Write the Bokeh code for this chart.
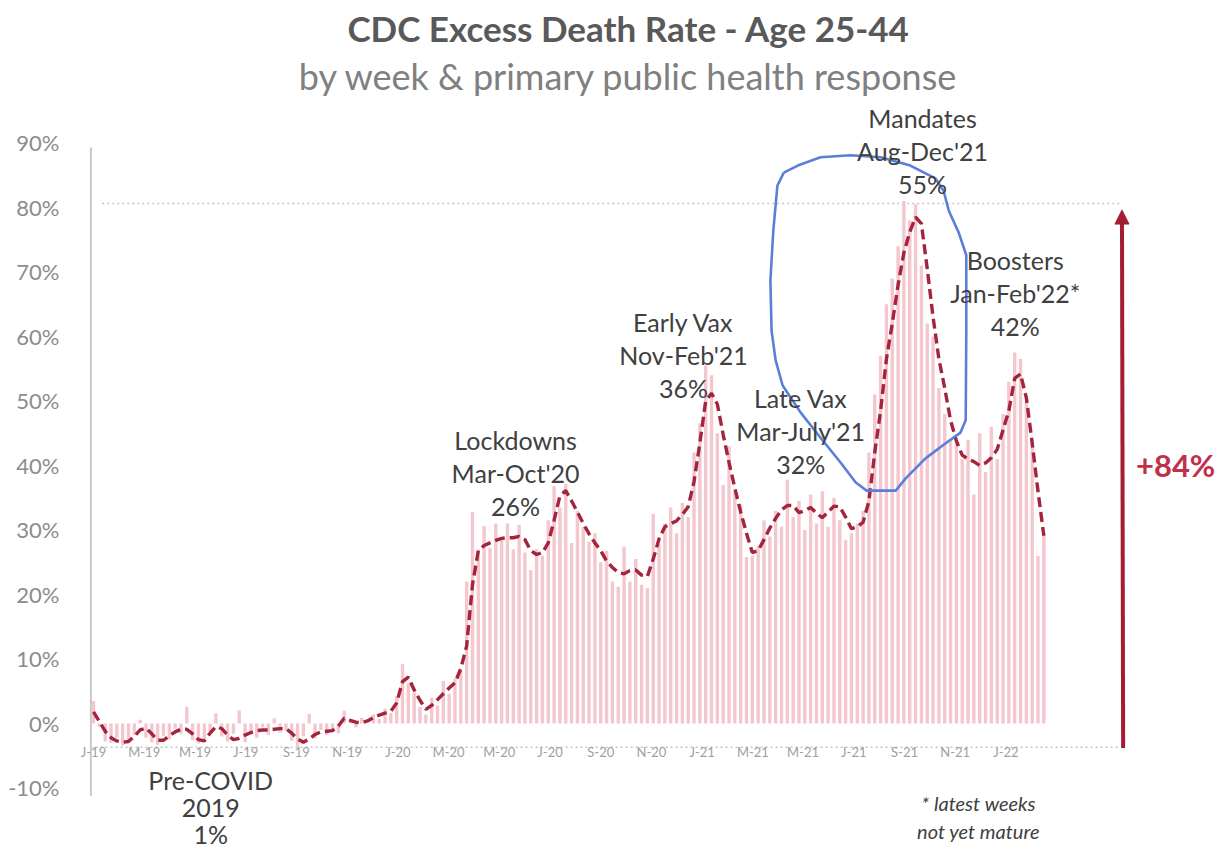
from bokeh.plotting import figure
from bokeh.models import Range1d, FixedTicker, LinearAxis, Arrow, NormalHead
from bokeh.core.properties import value
from bokeh.embed import file_html
from bokeh.resources import INLINE

# ---------------- data (weekly, Jan 2019 .. Feb 2022) ----------------
weeks = list(range(164))

excess_rate = [
    3.5, -0.5, -2.8, -3.0, -2.2, -3.4, -2.6, -1.8, 0.6, -2.2,
    -2.9, -3.3, -1.9, -2.5, -0.8, -1.6, 2.6, -2.6, -3.1, -2.4,
    -1.2, 1.6, -2.0, -2.8, -1.6, 2.0, -2.9, -1.5, -2.2, -0.6,
    -1.8, 0.8, -1.4, -1.1, -2.7, -3.6, -2.0, 1.5, -2.3, -1.0,
    -1.8, -0.9, -1.5, 2.0, 0.2, -0.6, 0.9, 0.0, 1.4, 0.7,
    2.3, 1.6, 4.2, 9.2, 6.2, 4.8, 2.6, 1.4, 4.0, 2.8,
    6.6, 4.6, 7.0, 8.2, 22.0, 32.8, 27.0, 30.6, 27.2, 31.0,
    28.5, 31.0, 27.0, 30.8, 26.5, 23.8, 27.0, 26.0, 31.5, 36.8,
    33.5, 37.2, 28.0, 33.0, 30.5, 28.2, 29.5, 25.0, 26.8, 22.0,
    21.2, 27.4, 22.0, 25.5, 21.5, 21.0, 32.5, 27.8, 31.0, 33.5,
    29.5, 34.2, 32.0, 42.0, 46.5, 55.5, 54.0, 45.0, 37.0, 43.0,
    36.0, 34.0, 25.8, 26.0, 27.5, 31.5, 29.0, 33.0, 30.5, 37.8,
    32.0, 34.5, 30.0, 35.5, 31.0, 36.0, 30.5, 35.0, 31.5, 28.5,
    29.5, 31.0, 33.0, 42.0, 51.0, 57.0, 65.0, 69.0, 74.0, 81.0,
    78.0, 80.5, 71.0, 62.0, 60.0, 52.0, 48.0, 44.0, 43.5, 41.0,
    44.0, 35.5, 45.0, 39.0, 46.0, 41.0, 48.0, 53.0, 57.5, 56.5,
    50.0, 44.0, 26.0, 29.5,
]

trend = [
    1.8, 0.3, -1.2, -2.2, -2.7, -2.9, -2.8, -2.0, -1.0, -0.7,
    -1.6, -2.6, -2.6, -1.9, -1.3, -0.9, -0.9, -1.6, -2.5, -2.7,
    -1.5, -0.5, -0.8, -1.8, -2.5, -2.3, -1.8, -1.4, -1.1, -1.0,
    -1.0, -0.9, -0.8, -0.8, -1.5, -2.4, -2.9, -2.4, -1.7, -1.3,
    -1.2, -1.1, -0.4, 0.8, 0.5, 0.2, 0.1, 0.4, 0.9, 1.3,
    1.6, 1.9, 3.2, 6.5, 7.2, 5.2, 3.6, 2.2, 2.8, 3.7,
    4.6, 5.5, 6.3, 8.5, 12.0, 21.5, 26.8, 27.6, 28.0, 28.4,
    28.7, 28.8, 28.8, 29.0, 28.5, 26.8, 26.2, 26.5, 28.0, 31.5,
    35.3, 36.1, 34.5, 32.8, 31.0, 29.4, 28.0, 26.8, 25.2, 24.2,
    23.4, 23.2, 23.7, 23.8, 23.0, 22.8, 25.5, 28.6, 30.5, 31.0,
    31.4, 32.4, 33.6, 37.5, 43.5, 50.0, 51.2, 49.5, 44.8, 40.5,
    36.5, 32.8, 29.5, 26.5, 26.8, 28.5, 30.3, 31.8, 33.1, 33.8,
    33.8, 32.7, 33.0, 33.5, 32.6, 31.9, 32.8, 33.7, 33.6, 32.0,
    30.2, 30.5, 31.2, 34.5, 42.0, 48.5, 56.5, 62.0, 68.0, 73.0,
    76.2, 78.5, 77.5, 70.5, 63.0, 56.5, 52.0, 47.0, 43.8, 41.6,
    41.0, 40.6, 40.0, 40.4, 41.2, 42.5, 45.5, 48.5, 53.5, 54.2,
    50.5, 43.5, 36.0, 29.1,
]

# month starts (in week units) and their labels
month_ticks = [0, 8.7, 17.4, 26.1, 34.8, 43.5, 52.2, 60.9, 69.6, 78.3,
               87.0, 95.7, 104.4, 113.1, 121.7, 130.4, 139.1, 147.8, 156.5]
month_labels = ["J-19", "M-19", "M-19", "J-19", "S-19", "N-19",
                "J-20", "M-20", "M-20", "J-20", "S-20", "N-20",
                "J-21", "M-21", "M-21", "J-21", "S-21", "N-21", "J-22"]

y_ticks = [-10, 0, 10, 20, 30, 40, 50, 60, 70, 80, 90]
y_labels = ["-10%", "0%", "10%", "20%", "30%", "40%", "50%", "60%", "70%", "80%", "90%"]

# period annotations: name, dates, average excess
period_names = ["Lockdowns", "Early Vax", "Late Vax", "Mandates", "Boosters"]
period_dates = ["Mar-Oct'20", "Nov-Feb'21", "Mar-July'21", "Aug-Dec'21", "Jan-Feb'22*"]
period_avgs = ["26%", "36%", "32%", "55%", "42%"]
period_x = [72.4, 101.2, 121.3, 142.2, 158.1]
period_y = [43.9, 62.2, 50.4, 93.8, 71.8]

precovid_text = ["Pre-COVID", "2019", "1%"]

# hand-drawn highlight loop (week, %)
loop_w = [118.4, 117.3, 116.6, 116.1, 116.3, 117.0, 118.2, 121.3, 124.7, 128.1,
          130.7, 132.6, 137.6, 139.3, 142.7, 146.1, 148.7, 149.6, 149.7, 149.7,
          148.4, 146.7, 145.8, 144.4, 140.1, 135.0, 129.8, 124.7, 120.8, 118.4]
loop_v = [85.4, 83.4, 76.4, 68.7, 60.9, 56.3, 52.4, 48.2, 44.3, 40.5,
          37.4, 36.1, 36.1, 38.0, 41.1, 43.4, 45.1, 47.0, 60.9, 72.6,
          76.1, 79.5, 82.6, 84.5, 86.5, 87.8, 88.1, 87.8, 86.5, 85.4]

increase_label = "+84%"

# ---------------- figure ----------------
FONT = "Lato"
p = figure(width=1220, height=848,
           x_range=Range1d(-3.945, 193.3), y_range=Range1d(-19.38, 112.09),
           x_axis_type=None, output_backend="svg", toolbar_location=None,
           min_border_left=70, min_border_right=0, min_border_top=0, min_border_bottom=0)
p.outline_line_color = None
p.ygrid.grid_line_color = None
p.background_fill_color = "white"

# y axis
yax = p.yaxis[0]
yax.ticker = FixedTicker(ticks=y_ticks)
yax.major_label_overrides = {t: l for t, l in zip(y_ticks, y_labels)}
yax.axis_line_color = None
yax.major_tick_line_color = None
yax.minor_tick_line_color = None
yax.major_label_standoff = 5
yax.major_label_text_font = FONT
yax.major_label_text_font_size = "22px"
yax.major_label_text_color = "#8c8c8c"

# x axis (labels sit on the dotted baseline inside the chart)
xax = LinearAxis(fixed_location=-2.3, ticker=FixedTicker(ticks=month_ticks),
                 major_label_overrides={t: l for t, l in zip(month_ticks, month_labels)},
                 axis_line_color=None, major_tick_line_color=None, minor_tick_line_color=None,
                 major_label_standoff=0, major_label_text_font=FONT,
                 major_label_text_font_size="13px", major_label_text_color="#a0a0a0")
p.add_layout(xax, "below")

# reference lines
p.segment(x0=[-0.5, 1.5], y0=[-3.7, 80.6], x1=[176.0, 176.0], y1=[-3.7, 80.6],
          line_color="#c4c4c4", line_width=1.5, line_dash="2 3")
p.segment(x0=[-0.45], y0=[-11.2], x1=[-0.45], y1=[89.3], line_color="#c8c8c8", line_width=2)

# bars + trend
p.vbar(x=weeks, top=excess_rate, bottom=0, width=0.58, fill_color="#f4c6ce", line_color=None)
p.line(weeks, trend, line_color="#a3243b", line_width=3.4, line_dash="10 5")

# highlight loop
p.line(loop_w, loop_v, line_color="#5a7fd8", line_width=2.6)

# arrow
p.add_layout(Arrow(end=NormalHead(size=14, fill_color="#a51d35", line_color="#a51d35"),
                   x_start=176.6, y_start=-3.8, x_end=176.4, y_end=79.6,
                   line_color="#a51d35", line_width=4))
p.text(x=[185.6], y=[40.0], text=[increase_label], text_font=value(FONT), text_font_style="bold",
       text_font_size="31px", text_color="#c0304a", text_align="center", text_baseline="middle")

# titles
p.text(x=[91.8], y=[107.85], text=["CDC Excess Death Rate - Age 25-44"], text_font=value(FONT),
       text_font_style="bold", text_font_size="35px", text_color="#595959",
       text_align="center", text_baseline="middle")
p.text(x=[91.8], y=[100.45], text=["by week & primary public health response"], text_font=value(FONT),
       text_font_size="36px", text_color="#808080", text_align="center", text_baseline="middle")

# period annotations
ann_style = dict(text_font=value(FONT), text_font_size="25px", text_color="#404040",
                 text_align="center", text_baseline="middle")
step = 5.1
p.text(x=period_x, y=period_y, text=period_names, **ann_style)
p.text(x=period_x, y=[v - step for v in period_y], text=period_dates, **ann_style)
p.text(x=period_x, y=[v - 2 * step for v in period_y], text=period_avgs, **ann_style)

p.text(x=[20.1, 20.1, 20.1], y=[-8.8, -13.1, -17.2], text=precovid_text, **ann_style)

p.text(x=[151.8, 151.8], y=[-12.4, -16.6], text=["* latest weeks", "not yet mature"],
       text_font=value(FONT), text_font_style="italic", text_font_size="20px",
       text_color="#404040", text_align="center", text_baseline="middle")

open("out.html", "w").write(file_html(p, INLINE))
